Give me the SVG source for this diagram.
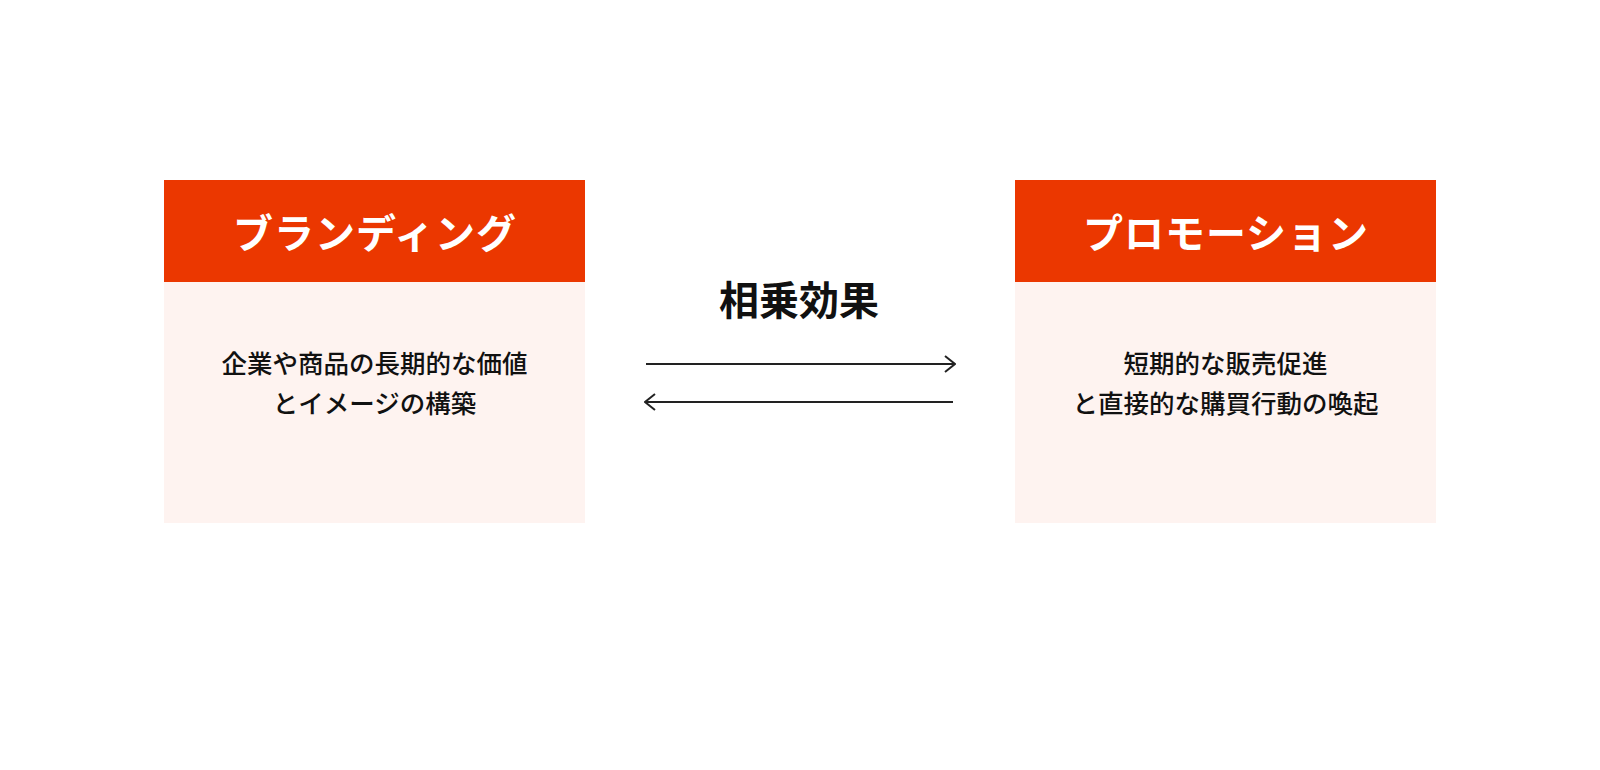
<svg xmlns="http://www.w3.org/2000/svg" width="1600" height="770" viewBox="0 0 1600 770">
  <defs>
    <style>
      .head { fill: #EB3700; }
      .body { fill: #FEF3F0; }
      .title { font-family: "Noto Sans CJK JP", "Noto Sans", sans-serif; font-weight: 700; font-size: 40px; letter-spacing: 1px; fill: #FFFFFF; text-anchor: middle; }
      .desc { font-family: "Noto Sans CJK JP", "Noto Sans", sans-serif; font-weight: 500; font-size: 25.5px; fill: #111111; text-anchor: middle; }
      .label { font-family: "Noto Sans CJK JP", "Noto Sans", sans-serif; font-weight: 700; font-size: 40px; fill: #111111; text-anchor: middle; }
      .conn { stroke: #222222; stroke-width: 2; fill: none; }
    </style>
    <marker id="arrow" viewBox="0 0 12 18" refX="11" refY="9" markerWidth="12" markerHeight="18" markerUnits="userSpaceOnUse" orient="auto-start-reverse">
      <path d="M1,1 L11,9 L1,17" fill="none" stroke="#222222" stroke-width="2"/>
    </marker>
  </defs>
  <rect width="1600" height="770" fill="#FFFFFF"/>
  <g id="branding">
    <rect class="body" x="164" y="180" width="421" height="343"/>
    <rect class="head" x="164" y="180" width="421" height="102"/>
    <text class="title" x="375" y="248">ブランディング</text>
    <text class="desc" x="374.5" y="373">企業や商品の長期的な価値</text>
    <text class="desc" x="374.5" y="413">とイメージの構築</text>
  </g>
  <g id="promotion">
    <rect class="body" x="1015" y="180" width="421" height="343"/>
    <rect class="head" x="1015" y="180" width="421" height="102"/>
    <text class="title" x="1226" y="248">プロモーション</text>
    <text class="desc" x="1225.5" y="373">短期的な販売促進</text>
    <text class="desc" x="1225.5" y="413">と直接的な購買行動の喚起</text>
  </g>
  <g id="synergy-label">
    <text class="label" x="799" y="315">相乗効果</text>
  </g>
  <g id="connectors">
    <line class="conn" x1="646" y1="364" x2="955" y2="364" marker-end="url(#arrow)"/>
    <line class="conn" x1="953" y1="402" x2="645" y2="402" marker-end="url(#arrow)"/>
  </g>
</svg>
